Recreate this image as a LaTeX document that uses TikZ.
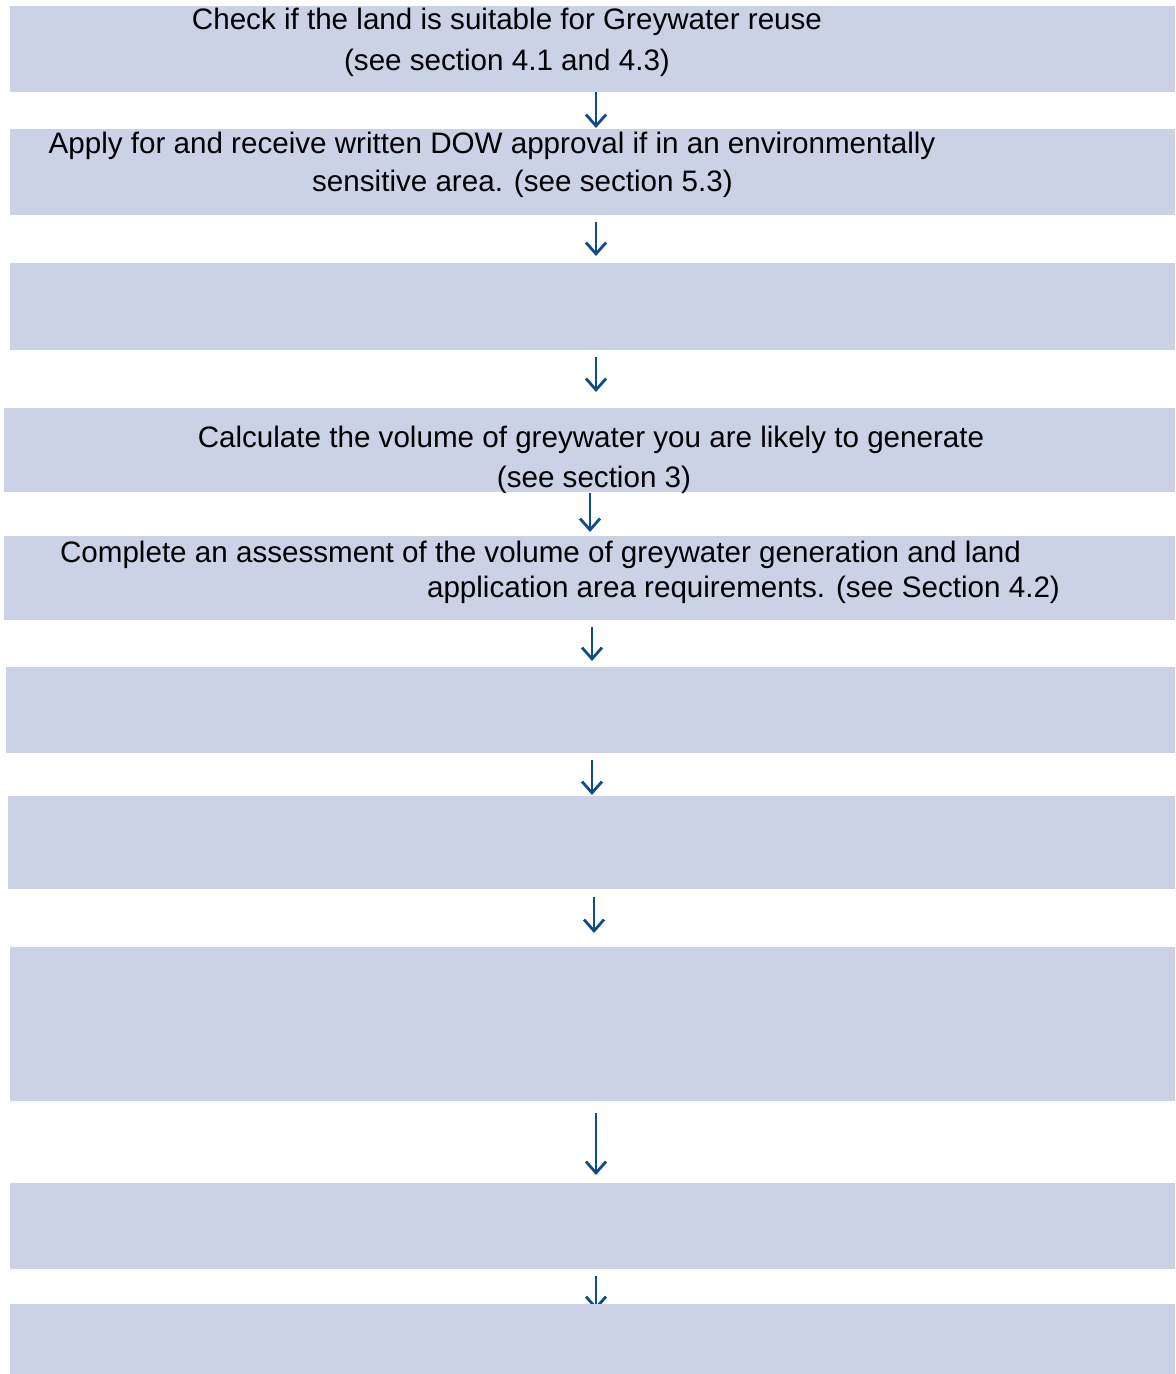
\documentclass[tikz,border=0pt]{standalone}
\usepackage{fontspec}
\setmainfont{Liberation Sans}
\usetikzlibrary{arrows.meta,calc,fit}
\definecolor{boxfill}{RGB}{203,210,230}
\definecolor{arrowblue}{RGB}{15,76,138}
\pgfdeclarelayer{bg}
\pgfsetlayers{bg,main}
\begin{document}
\begin{tikzpicture}[x=0.75pt,y=-0.75pt,
  stepbox/.style={fill=boxfill, draw=none, inner sep=0pt, outer sep=0pt},
  arr/.style={draw=arrowblue, line width=2.1pt, -{Straight Barb[length=8.5pt,width=15pt,line width=2.1pt]}},
  lbl/.style={anchor=base, inner sep=0pt, font=\fontsize{22.2pt}{26pt}\selectfont}]
\useasboundingbox (0,0) rectangle (1175,1374);
% boxes
\node[stepbox, fit={(10,6) (1175,92)}] (b1) {};
\node[stepbox, fit={(10,129) (1175,215)}] (b2) {};
\node[stepbox, fit={(10,263) (1175,350)}] (b3) {};
\node[stepbox, fit={(4,408) (1175,492)}] (b4) {};
\node[stepbox, fit={(4,536) (1175,620)}] (b5) {};
\node[stepbox, fit={(6,667) (1175,753)}] (b6) {};
\node[stepbox, fit={(8,796) (1175,889)}] (b7) {};
\node[stepbox, fit={(10,947) (1175,1101)}] (b8) {};
\node[stepbox, fit={(10,1183) (1175,1269)}] (b9) {};
\node[stepbox, fit={(10,1304) (1175,1374)}] (b10) {};
% labels
\node[lbl] (t1a) at (507,29) {Check if the land is suitable for Greywater reuse};
\node[lbl] (t1b) at (507,70) {(see section 4.1 and 4.3)};
\node[lbl] (t2a) at (492,153) {Apply for and receive written DOW approval if in an environmentally};
\node[lbl] (t2b) at (522.5,191) {sensitive area. (see section 5.3)};
\node[lbl] (t4a) at (591,447) {Calculate the volume of greywater you are likely to generate};
\node[lbl] (t4b) at (594,487) {(see section 3)};
\node[lbl] (t5a) at (540.5,562) {Complete an assessment of the volume of greywater generation and land};
\node[lbl] (t5b) at (743.5,597) {application area requirements. (see Section 4.2)};
% arrows
\begin{pgfonlayer}{bg}
\draw[arr, shorten >=0.75pt] ($(b1.south)+(3.5,0)$) coordinate (s1) -- (s1 |- b2.north);
\draw[arr, shorten >=5.25pt] ($(b2.south)+(3.5,7)$) coordinate (s2) -- (s2 |- b3.north);
\draw[arr, shorten >=12pt] ($(b3.south)+(3.5,7)$) coordinate (s3) -- (s3 |- b4.north);
\draw[arr, shorten >=3pt] ($(b4.south)+(0.5,1)$) coordinate (s4) -- (s4 |- b5.north);
\draw[arr, shorten >=4.5pt] ($(b5.south)+(2.5,7)$) coordinate (s5) -- (s5 |- b6.north);
\draw[arr, shorten >=0.75pt] ($(b6.south)+(1.5,7)$) coordinate (s6) -- (s6 |- b7.north);
\draw[arr, shorten >=10.5pt] ($(b7.south)+(2.5,8)$) coordinate (s7) -- (s7 |- b8.north);
\draw[arr, shorten >=6pt] ($(b8.south)+(3.5,12)$) coordinate (s8) -- (s8 |- b9.north);
\draw[arr, shorten >=-4.5pt] ($(b9.south)+(3.5,7)$) coordinate (s9) -- (s9 |- b10.north);
\end{pgfonlayer}
\end{tikzpicture}
\end{document}
